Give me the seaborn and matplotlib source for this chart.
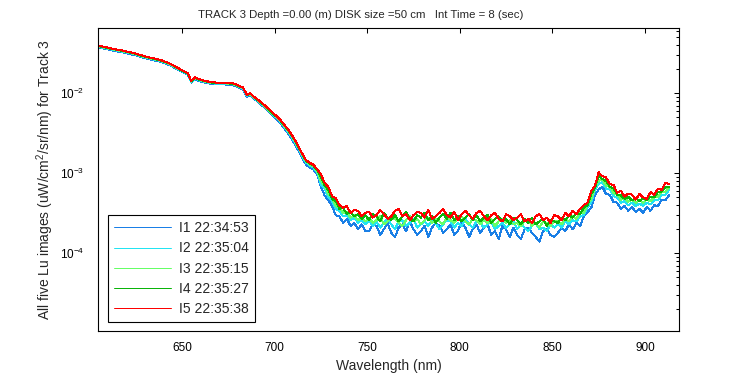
import numpy as np
import pandas as pd
import matplotlib
matplotlib.use("Agg")
import matplotlib.pyplot as plt
from matplotlib.lines import Line2D
import seaborn as sns
from matplotlib.ticker import LogLocator, NullFormatter, NullLocator, FixedLocator

# ---- data (Lu values in units of 1e-4 uW/cm^2/sr/nm), 2 nm grid 605..913 nm ----
wavelength = np.arange(605, 915, 2)

i1 = [372, 365, 357, 349, 342, 334, 328, 321, 313, 306,
      298, 289, 279, 272, 264, 258, 253, 245, 236, 226,
      215, 201, 190, 180, 171, 136, 150, 143, 139, 135,
      132, 130, 129, 129, 129, 128, 127, 123, 117, 112,
      91, 95, 85, 78, 71, 65, 58, 52, 47.5, 42.5,
      37.0, 32.0, 27.5, 23.0, 18.9, 15.4, 12.8, 11.8, 11.1, 9.6,
      6.8, 5.3, 4.6, 3.9, 3.0, 2.9, 2.4, 2.7, 2.2, 2.4, 2.0, 2.3, 1.9,
      1.9, 2.3, 2.2, 1.7, 2.0, 2.4, 1.8, 1.6, 2.1, 2.3,
      1.9, 2.5, 2.0, 1.7, 1.9, 2.2, 1.6, 2.1, 2.4, 2.2,
      1.8, 2.0, 2.3, 1.7, 1.9, 2.5, 2.1, 1.6, 2.0, 2.3,
      1.8, 2.1, 2.3, 1.7, 1.9, 1.5, 2.2, 2.0, 1.6, 2.1,
      1.7, 1.5, 2.0, 2.1, 1.8, 1.6, 1.4, 1.9, 2.0, 1.7, 1.6,
      1.8, 2.1, 1.9, 2.3, 2.0, 2.4, 2.2, 2.9, 3.3, 3.7,
      5.3, 6.3, 6.8, 5.5, 5.4, 4.4, 4.3, 3.6, 3.9, 3.4,
      3.8, 3.3, 3.6, 3.2, 3.8, 3.4, 4.0, 3.9, 4.7, 4.6, 5.3]

i2 = [380, 373, 365, 356, 349, 341, 335, 328, 320, 312,
      305, 295, 285, 277, 270, 264, 258, 250, 241, 231,
      219, 206, 194, 184, 175, 139, 153, 146, 142, 138,
      135, 133, 132, 132, 132, 131, 130, 126, 120, 114,
      93, 97, 87, 80, 73, 67, 60, 54, 49.5, 44.5,
      38.8, 33.8, 29.0, 24.3, 20.0, 16.3, 13.6, 12.5, 11.8, 10.2,
      7.3, 6.5, 5.0, 4.5, 3.6, 3.4, 2.9, 3.0, 2.6, 2.8, 2.4, 2.6, 2.3,
      2.6, 2.2, 2.5, 2.1, 2.4, 2.7, 2.3, 2.0, 2.5, 2.6,
      2.2, 2.4, 2.7, 2.1, 2.3, 2.5, 2.2, 2.6, 2.4, 2.0,
      2.3, 2.6, 2.5, 2.1, 2.4, 2.2, 2.7, 2.3, 2.1, 2.5,
      2.4, 2.1, 2.3, 2.5, 2.0, 2.2, 2.4, 2.1, 2.3, 2.5,
      2.0, 2.3, 2.1, 1.9, 2.2, 2.4, 2.0, 2.1, 1.9, 2.3, 2.1,
      2.3, 2.1, 2.5, 2.3, 2.6, 2.5, 2.9, 3.0, 3.8, 4.3,
      6.2, 7.4, 7.8, 6.4, 6.3, 5.2, 5.0, 4.3, 4.5, 4.0,
      4.3, 3.9, 4.2, 3.9, 4.3, 4.1, 4.6, 4.6, 5.4, 5.4, 6.2]

i3 = [385, 377, 369, 360, 353, 345, 338, 331, 323, 316,
      308, 298, 288, 280, 272, 266, 260, 253, 243, 233,
      221, 208, 196, 186, 176, 140, 155, 148, 143, 139,
      136, 134, 133, 133, 133, 132, 131, 127, 121, 116,
      94, 98, 88, 81, 74, 68, 61, 55, 50, 45,
      39.5, 34.5, 29.8, 25.0, 20.6, 16.8, 14.0, 12.9, 12.2, 10.6,
      8.0, 7.1, 5.5, 4.9, 3.9, 3.7, 3.2, 3.3, 2.8, 3.0, 2.6, 2.8, 2.5,
      2.8, 2.4, 2.6, 2.9, 2.3, 2.5, 2.8, 2.7, 2.4, 2.2,
      2.6, 2.9, 2.5, 2.7, 2.3, 2.6, 2.8, 2.4, 2.7, 2.5,
      2.3, 2.8, 2.6, 2.4, 2.7, 2.9, 2.5, 2.3, 2.7, 2.6,
      2.3, 2.6, 2.4, 2.7, 2.2, 2.5, 2.7, 2.4, 2.6, 2.3,
      2.4, 2.2, 2.5, 2.6, 2.2, 2.4, 2.1, 2.5, 2.4, 2.2, 2.5,
      2.5, 2.3, 2.7, 2.5, 2.9, 2.7, 3.2, 3.2, 4.1, 4.7,
      6.7, 8.1, 8.4, 7.0, 6.8, 5.7, 5.4, 4.7, 4.9, 4.4,
      4.7, 4.3, 4.6, 4.3, 4.7, 4.5, 5.0, 5.1, 5.8, 5.9, 6.7]

i4 = [389, 380, 373, 363, 356, 349, 341, 335, 327, 319,
      311, 301, 291, 283, 275, 269, 263, 255, 245, 236,
      224, 210, 198, 188, 178, 141, 156, 149, 145, 141,
      137, 136, 135, 134, 134, 133, 132, 129, 122, 117,
      95, 99, 89, 82, 75, 69, 62, 56, 51, 46,
      40.5, 35.5, 30.5, 25.6, 21.1, 17.2, 14.3, 13.2, 12.5, 10.9,
      8.9, 7.1, 6.2, 4.8, 4.5, 3.6, 3.7, 3.1, 3.3, 2.9, 3.1, 2.7, 3.0,
      2.6, 3.1, 2.9, 2.5, 3.2, 2.8, 2.6, 3.0, 2.5, 2.9,
      3.3, 2.7, 2.5, 3.0, 2.8, 3.2, 2.6, 2.9, 2.4, 2.8,
      3.1, 2.7, 3.2, 2.6, 2.9, 2.5, 2.8, 3.1, 2.6, 3.0,
      2.5, 2.8, 3.0, 2.4, 2.7, 2.9, 2.5, 2.7, 2.3, 2.8,
      2.6, 2.3, 2.7, 2.4, 2.8, 2.3, 2.5, 2.7, 2.2, 2.6, 2.5,
      2.4, 2.8, 2.6, 3.0, 2.8, 3.2, 3.1, 3.7, 4.0, 5.5,
      6.6, 9.2, 8.5, 8.0, 6.8, 6.5, 5.4, 5.3, 4.8, 5.1,
      4.6, 4.9, 4.5, 4.9, 4.6, 5.1, 5.0, 5.8, 5.9, 6.7, 6.8]

i5 = [392, 384, 376, 367, 360, 352, 345, 338, 330, 322,
      314, 304, 294, 286, 278, 272, 266, 258, 248, 238,
      226, 212, 200, 190, 180, 143, 158, 151, 146, 142,
      139, 137, 136, 136, 136, 135, 134, 130, 124, 118,
      96, 100, 90, 83, 76, 70, 63, 57, 52, 47,
      41, 36, 31, 26, 21.5, 17.5, 14.6, 13.5, 12.8, 11.2,
      9.7, 7.6, 6.8, 5.2, 4.9, 4.0, 3.7, 3.9, 3.2, 3.5, 3.4, 2.9, 3.2,
      3.3, 2.8, 3.0, 3.5, 3.1, 2.7, 2.9, 3.4, 3.6, 2.9,
      3.1, 2.6, 3.0, 3.3, 3.2, 2.8, 3.5, 2.7, 2.9, 3.2,
      3.6, 3.0, 2.8, 3.3, 2.6, 3.1, 3.4, 3.0, 2.7, 3.2,
      3.4, 2.9, 2.6, 3.0, 3.2, 2.7, 2.5, 3.1, 2.9, 2.6,
      2.8, 3.1, 2.5, 2.7, 2.4, 2.9, 3.1, 2.6, 2.8, 2.4, 3.0,
      2.9, 2.6, 3.2, 2.9, 3.4, 3.1, 3.6, 4.0, 4.3, 6.0,
      7.0, 10.3, 9.2, 8.9, 7.3, 7.2, 5.7, 6.1, 5.1, 5.6,
      5.4, 4.7, 5.5, 5.0, 4.8, 5.8, 5.4, 6.4, 6.2, 7.6, 7.4]

series_labels = ["I1 22:34:53", "I2 22:35:04", "I3 22:35:15",
                 "I4 22:35:27", "I5 22:35:38"]
series_colors = ["#1a7fe6", "#22e4f2", "#66ff66", "#0ab40a", "#ff0000"]
x_ticks = [650, 700, 750, 800, 850, 900]
title = "TRACK 3 Depth =0.00 (m) DISK size =50 cm   Int Time = 8 (sec)"

# ---- styling ----
sns.set_style("white")
plt.rcParams["font.family"] = ["Liberation Sans", "DejaVu Sans"]
plt.rcParams["mathtext.fontset"] = "custom"
plt.rcParams["mathtext.rm"] = "Liberation Sans"
plt.rcParams["mathtext.it"] = "Liberation Sans:italic"
plt.rcParams["mathtext.bf"] = "Liberation Sans:bold"
plt.rcParams["axes.unicode_minus"] = False
TICK_FS = 8.5
LABEL_FS = 10
TITLE_FS = 8.2
LEG_FS = 10

all_vals = [i1, i2, i3, i4, i5]
df = pd.DataFrame({
    "Wavelength": np.tile(wavelength, len(all_vals)),
    "Lu": np.concatenate([np.asarray(v, float) for v in all_vals]) * 1e-4,
    "Image": np.repeat(series_labels, len(wavelength)),
})

fig = plt.figure(figsize=(7.5, 3.75), dpi=100)
ax = fig.add_axes([98 / 750, 1 - 331 / 375, 581 / 750, 303 / 375])

sns.lineplot(data=df, x="Wavelength", y="Lu", hue="Image",
             hue_order=series_labels, palette=series_colors,
             estimator=None, sort=False, linewidth=0.72, ax=ax,
             legend=False, antialiased=False)

ax.set_yscale("log")
ax.set_xlim(604.6, 918.4)
ax.set_ylim(1.07e-5, 0.0655)
ax.xaxis.set_major_locator(FixedLocator(x_ticks))
ax.xaxis.set_minor_locator(NullLocator())
ax.yaxis.set_major_locator(LogLocator(base=10, numticks=12))
ax.yaxis.set_minor_locator(LogLocator(base=10, subs=np.arange(2, 10), numticks=12))
ax.yaxis.set_minor_formatter(NullFormatter())

ax.tick_params(which="both", direction="in", top=True, right=True,
               colors="black", labelsize=TICK_FS, width=0.75)
ax.tick_params(which="major", length=3.6)
ax.tick_params(which="minor", length=2.2)
ax.tick_params(axis="x", pad=8)
ax.tick_params(axis="y", pad=10)

for sp in ax.spines.values():
    sp.set_color("black")
    sp.set_linewidth(0.8)

ax.set_xlabel("Wavelength (nm)", fontsize=LABEL_FS, labelpad=3.5)
ax.set_ylabel("All five Lu images (uW/cm$^2$/sr/nm) for Track 3",
              fontsize=LABEL_FS, labelpad=3)
ax.set_title(title, fontsize=TITLE_FS, pad=7, x=0.452)

handles = [Line2D([], [], color=c, linewidth=0.72, antialiased=False)
           for c in series_colors]
leg = ax.legend(handles, series_labels, loc="lower left",
                bbox_to_anchor=(0.0172, 0.0297), borderaxespad=0,
                fontsize=LEG_FS, frameon=True, fancybox=False, framealpha=1,
                edgecolor="black", handlelength=4.1, handletextpad=0.58,
                labelspacing=0.44, borderpad=0.45)
leg.get_frame().set_linewidth(0.8)

fig.savefig("out.png", dpi=100, facecolor="white")
